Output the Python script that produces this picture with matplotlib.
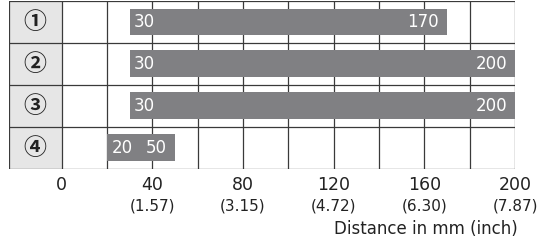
import matplotlib.pyplot as plt
from matplotlib.patches import Rectangle

plt.rcParams['font.family'] = ['DejaVu Sans']

rows = ['①', '②', '③', '④']
starts = [30, 30, 30, 20]
ends = [170, 200, 200, 50]
ticks = [0, 40, 80, 120, 160, 200]
inch_labels = ['', '(1.57)', '(3.15)', '(4.72)', '(6.30)', '(7.87)']

bar_color = '#808083'
line_color = '#3a3a3a'
col_w = 23.4

fig = plt.figure(figsize=(5.41, 2.43), dpi=100)
ax = fig.add_axes([8.5 / 541, 1 - 168.5 / 243, (515 - 8.5) / 541, 167.5 / 243])
ax.set_xlim(-col_w, 200)
ax.set_ylim(len(rows), 0)
ax.axis('off')

# label column
ax.add_patch(Rectangle((-col_w, 0), col_w, len(rows), fc='#e6e6e6', ec='none', zorder=0))

# grid
for x in range(0, 201, 20):
    ax.plot([x, x], [0, len(rows)], color=line_color, lw=0.9, zorder=1)
ax.plot([-col_w, -col_w], [0, len(rows)], color=line_color, lw=0.9, zorder=1)
for y in range(len(rows) + 1):
    ax.plot([-col_w, 200], [y, y], color=line_color, lw=0.9, zorder=1)

for i, (lab, s, e) in enumerate(zip(rows, starts, ends)):
    yc = i + 0.5
    ax.text(-col_w / 2, yc + 0.02, lab, ha='center', va='center', fontsize=16.5,
            fontweight='bold', family=['Noto Sans CJK JP', 'DejaVu Sans'],
            color='#222222')
    ax.barh(yc, e - s, left=s, height=0.64, color=bar_color, zorder=2)
    ax.text(s + 2.0, yc, str(s), ha='left', va='center', fontsize=12,
            color='white', zorder=3)
    ax.text(e - 3.5, yc, str(e), ha='right', va='center', fontsize=12,
            color='white', zorder=3)

for t, il in zip(ticks, inch_labels):
    ax.text(t, len(rows) + 0.4, str(t), ha='center', va='center', fontsize=12.5,
            color='#222222', clip_on=False)
    if il:
        ax.text(t, len(rows) + 0.89, il, ha='center', va='center', fontsize=11,
                color='#222222', clip_on=False)

ax.text(201, len(rows) + 1.45, 'Distance in mm (inch)', ha='right', va='center',
        fontsize=12, color='#222222', clip_on=False)

fig.savefig('out.png', dpi=100)
